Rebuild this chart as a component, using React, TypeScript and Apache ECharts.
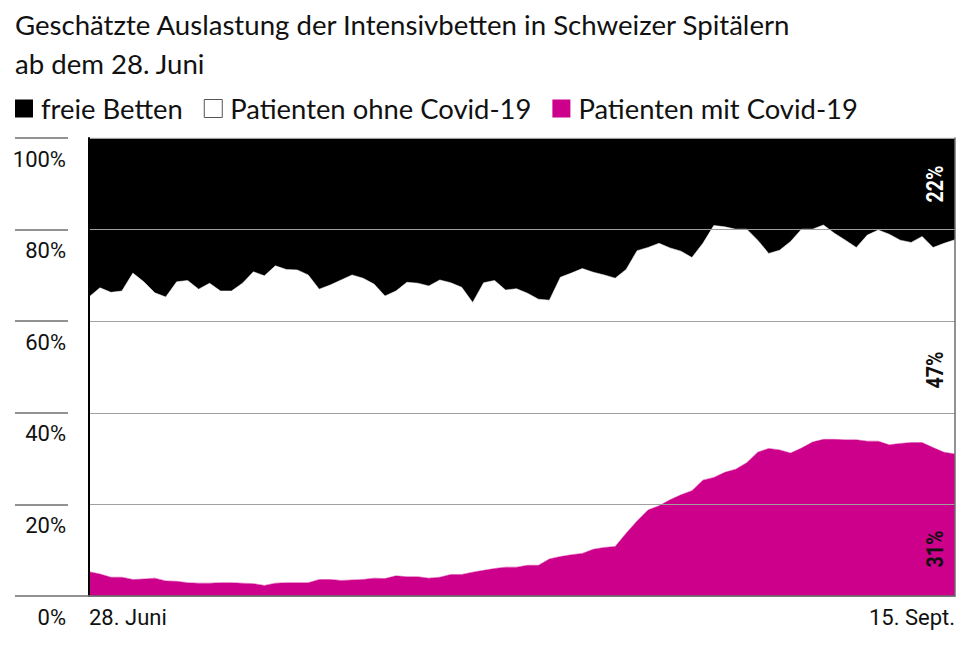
import React from 'react';
import * as echarts from 'echarts';

// Anteil belegter Betten (obere Kante der weissen Fläche), in %
const belegt = [
  65.3, 67.3, 66.3, 66.6, 70.5, 68.6, 66.2, 65.3, 68.6, 68.9,
  67.0, 68.3, 66.6, 66.6, 68.3, 70.8, 69.9, 72.1, 71.3, 71.2,
  70.1, 67.0, 67.9, 69.0, 70.1, 69.4, 68.1, 65.5, 66.6, 68.5,
  68.3, 67.7, 69.0, 68.4, 67.4, 64.1, 68.4, 68.9, 66.8, 67.1,
  66.1, 64.8, 64.6, 69.6, 70.5, 71.5, 70.7, 70.1, 69.4, 71.3,
  75.4, 76.1, 77.0, 76.0, 75.3, 73.9, 77.0, 80.9, 80.6, 80.1,
  80.1, 77.7, 74.8, 75.5, 77.4, 80.1, 80.1, 81.0, 79.2, 77.7,
  76.1, 78.8, 79.9, 79.0, 77.7, 77.2, 78.5, 76.1, 77.0, 77.8,
];

// Anteil Patienten mit Covid-19, in %
const covid = [
  5.3, 4.8, 4.1, 4.1, 3.6, 3.7, 3.9, 3.3, 3.2, 2.9,
  2.8, 2.8, 2.9, 2.9, 2.8, 2.7, 2.3, 2.8, 2.9, 2.9,
  2.9, 3.6, 3.6, 3.4, 3.5, 3.6, 3.9, 3.8, 4.4, 4.2,
  4.2, 3.9, 4.1, 4.7, 4.7, 5.2, 5.6, 6.0, 6.3, 6.3,
  6.7, 6.7, 8.1, 8.6, 9.0, 9.3, 10.2, 10.6, 10.8, 13.7,
  16.4, 18.8, 19.7, 21.0, 22.1, 23.0, 25.3, 25.9, 27.0, 27.7,
  29.1, 31.4, 32.2, 31.9, 31.2, 32.3, 33.6, 34.2, 34.2, 34.1,
  34.1, 33.8, 33.8, 33.0, 33.3, 33.5, 33.5, 32.4, 31.4, 31.0,
];

const endLabels = ['22%', '47%', '31%'];

// 28. Juni bis 15. Sept.
const months: [string, number][] = [['Juni', 30], ['Juli', 31], ['Aug.', 31], ['Sept.', 30]];
const days: string[] = [];
{
  let m = 0;
  let d = 28;
  while (days.length < belegt.length) {
    days.push(d + '. ' + months[m][0]);
    d++;
    if (d > months[m][1]) {
      d = 1;
      m++;
    }
  }
}

const ohneCovid = belegt.map((b, i) => +(b - covid[i]).toFixed(1));
const frei = belegt.map((b) => +(100 - b).toFixed(1));

const SANS = 'Lato, "Noto Sans", sans-serif';
const NARROW = 'Roboto, "Liberation Sans", sans-serif';
const MAGENTA = '#cc008b';

const App = () => {
  const chartRef = React.useRef(null);

  React.useEffect(() => {
    const myChart = echarts.init(chartRef.current, null, { renderer: 'svg' });

    const area = (name: string, data: number[], color: string) => ({
      name,
      type: 'line',
      stack: 'total',
      data,
      color,
      symbol: 'none',
      lineStyle: { width: 0.5, color },
      areaStyle: { color, opacity: 1 },
      z: 2,
    });

    const option: any = {
      animation: false,
      title: {
        text: 'Geschätzte Auslastung der Intensivbetten in Schweizer Spitälern\nab dem 28. Juni',
        left: 10,
        top: 0,
        textStyle: {
          fontFamily: SANS,
          fontSize: 27.6,
          fontWeight: 'normal',
          color: '#111',
          lineHeight: 39,
        },
      },
      legend: {
        left: 10,
        top: 90,
        icon: 'rect',
        itemWidth: 18,
        itemHeight: 18,
        itemGap: 21,
        selectedMode: false,
        textStyle: { fontFamily: SANS, fontSize: 27.4, color: '#111', padding: [0, 0, 0, 3] },
        data: [
          { name: 'freie Betten' },
          { name: 'Patienten ohne Covid-19', itemStyle: { borderColor: '#555', borderWidth: 1 } },
          { name: 'Patienten mit Covid-19' },
        ],
      },
      grid: [
        { left: 89, right: 16, top: 138, bottom: 51 },
        { left: 15, width: 53, top: 138, bottom: 51 },
      ],
      xAxis: [
        {
          gridIndex: 0,
          type: 'category',
          boundaryGap: false,
          data: days,
          z: 10,
          axisLine: { lineStyle: { color: '#6e6e6e', width: 1.5 } },
          axisTick: { show: false },
          axisLabel: {
            interval: (i: number) => i === 0 || i === days.length - 1,
            alignMinLabel: 'left',
            alignMaxLabel: 'right',
            margin: 10,
            fontFamily: NARROW,
            fontSize: 22,
            color: '#111',
          },
        },
        { gridIndex: 1, type: 'value', show: false },
      ],
      yAxis: [
        {
          gridIndex: 0,
          type: 'value',
          min: 0,
          max: 100,
          interval: 20,
          z: 10,
          axisLine: { show: true, lineStyle: { color: '#000', width: 2 } },
          axisTick: { show: false },
          axisLabel: { show: false },
          splitLine: { lineStyle: { color: '#a0a0a0', width: 1.2 } },
        },
        {
          gridIndex: 0,
          type: 'value',
          position: 'right',
          min: 0,
          max: 100,
          z: 10,
          axisLine: { show: true, lineStyle: { color: '#6e6e6e', width: 1.5 } },
          axisTick: { show: false },
          axisLabel: { show: false },
          splitLine: { show: false },
        },
        {
          gridIndex: 1,
          type: 'value',
          position: 'right',
          min: 0,
          max: 100,
          interval: 20,
          axisLine: { show: false },
          axisTick: { show: false },
          splitLine: { lineStyle: { color: '#6e6e6e', width: 1.5 } },
          axisLabel: {
            inside: true,
            formatter: '{value}%',
            verticalAlign: 'top',
            padding: [10, 0, 0, 0],
            margin: 2,
            fontFamily: NARROW,
            fontSize: 22,
            color: '#111',
          },
        },
      ],
      series: [
        area('Patienten mit Covid-19', covid, MAGENTA),
        area('Patienten ohne Covid-19', ohneCovid, '#ffffff'),
        area('freie Betten', frei, '#000000'),
      ],
      graphic: [
        {
          type: 'line',
          z: 100,
          shape: { x1: 68, y1: 596, x2: 90, y2: 596 },
          style: { stroke: '#6e6e6e', lineWidth: 1.5 },
        },
        ...endLabels.map((t, i) => ({
          type: 'text',
          z: 100,
          x: 935,
          y: [184, 370, 549][i],
          rotation: Math.PI / 2,
          scaleX: 0.85,
          style: {
            text: t,
            fill: i === 0 ? '#fff' : '#111',
            font: 'bold 23px ' + NARROW,
            align: 'center',
            verticalAlign: 'middle',
          },
        })),
      ],
    };

    myChart.setOption(option);

    return () => {
      myChart.dispose();
    };
  }, []);

  return (
    <div
      ref={chartRef}
      style={{ position: 'fixed', left: 0, top: 0, width: '971px', height: '647px', background: '#fff' }}
    />
  );
};

export default App;
